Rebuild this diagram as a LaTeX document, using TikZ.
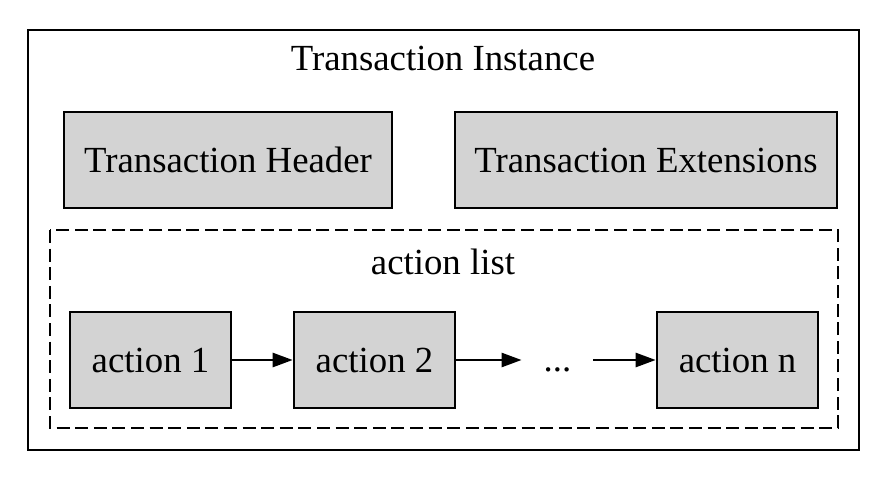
\documentclass[tikz,border=0pt]{standalone}
\usepackage{xcolor}
\usepackage{fontspec}
\setmainfont{Liberation Serif}
\usepackage{tikz}
\usetikzlibrary{shapes,arrows.meta,positioning}

\definecolor{boxgray}{HTML}{D3D3D3}

\tikzset{
    part/.style={
        draw,
        line width=1.3pt,
        fill=boxgray,
        inner sep=0pt
    },
    link/.style={
        -{Triangle[length=10pt,width=7pt]},
        line width=1.3pt
    }
}

\begin{document}
\begin{tikzpicture}[x=0.5pt,y=-0.5pt,font=\fontsize{18.4}{22}\selectfont]
                \useasboundingbox (0,0) rectangle (888,482);

                \draw[
                    line width=1.3pt
                ] (28,30) rectangle (859,450);
                \node (instance) at (443,58) {Transaction Instance};

                \node[part, minimum width=164pt, minimum height=48pt] (header) at (228,160) {Transaction Header};
                \node[part, minimum width=191pt, minimum height=48pt] (ext) at (646,160) {Transaction Extensions};

                \draw[
                    line width=1.3pt,
                    dash pattern=on 6.5pt off 2.8pt
                ] (50,230) rectangle (838,428);
                \node (list) at (443,262) {action list};

                \node[part, minimum width=80.5pt, minimum height=48pt] (a1) at (150.5,360) {action 1};
                \node[part, minimum width=80.5pt, minimum height=48pt] (a2) at (374.5,360) {action 2};
                \node[inner sep=0pt, minimum width=35.5pt, minimum height=48pt] (dots) at (557.5,360) {\vphantom{action 1}...};
                \node[part, minimum width=80.5pt, minimum height=48pt] (an) at (737.5,360) {action n};

                \draw[link] (a1) -- (a2);
                \draw[link] (a2) -- (dots);
                \draw[link] (dots) -- (an);

            \end{tikzpicture}
\end{document}
